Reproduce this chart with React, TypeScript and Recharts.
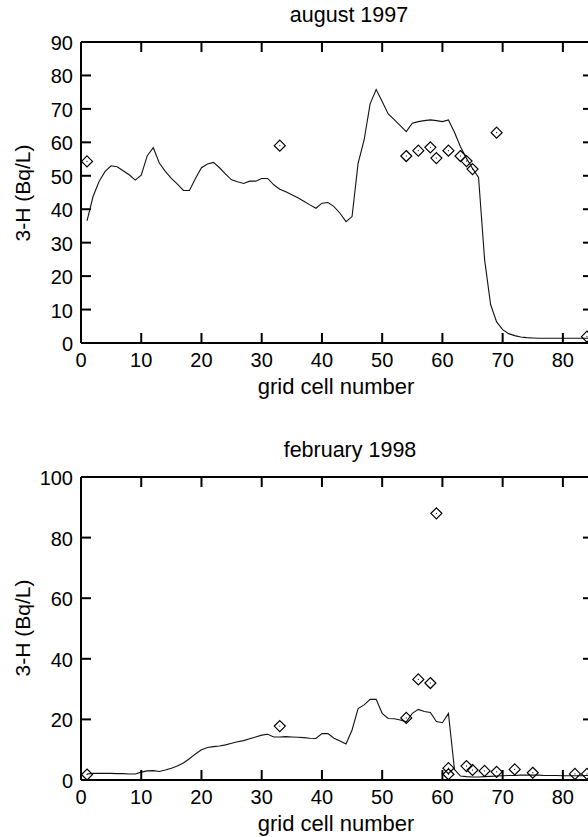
import React from 'react';
import { ComposedChart, Line, Scatter, XAxis, YAxis } from 'recharts';

const FONT = '"Liberation Sans", Arial, Helvetica, sans-serif';

// grid cells 1..85
const gridCells = Array.from({ length: 85 }, (_, i) => i + 1);

const aug97Model = [
  36.5, 43.8, 48.3, 51.3, 53.0, 52.7, 51.5, 50.3, 48.7, 50.2,
  56.0, 58.4, 53.8, 51.3, 49.2, 47.5, 45.6, 45.6, 49.2, 52.4,
  53.5, 54.0, 52.4, 50.5, 48.8, 48.2, 47.7, 48.4, 48.4, 49.2,
  49.2, 47.3, 46.0, 45.2, 44.3, 43.4, 42.4, 41.3, 40.3, 41.8,
  42.0, 40.8, 38.8, 36.3, 37.8, 53.7, 60.7, 71.5, 75.8, 72.2,
  68.5, 66.8, 65.0, 63.2, 65.7, 66.2, 66.5, 66.7, 66.5, 66.2,
  66.7, 63.0, 58.7, 55.2, 52.2, 49.5, 25.0, 11.5, 6.3, 4.0,
  2.8, 2.2, 1.8, 1.6, 1.5, 1.4, 1.4, 1.4, 1.4, 1.4,
  1.4, 1.4, 1.4, 1.4, 1.4,
];

const aug97ObsX = [1, 33, 54, 56, 58, 59, 61, 63, 64, 65, 69, 84];
const aug97ObsY = [54.3, 59.0, 55.9, 57.5, 58.5, 55.3, 57.5, 55.9, 54.4, 52.0, 62.9, 1.9];

const feb98Model = [
  2.0, 2.2, 2.2, 2.2, 2.2, 2.1, 2.1, 2.0, 2.0, 2.6,
  3.0, 3.1, 2.8, 3.3, 3.9, 4.6, 5.6, 7.0, 8.6, 10.0,
  10.7, 11.0, 11.2, 11.6, 12.1, 12.6, 13.0, 13.6, 14.2, 14.8,
  15.1, 14.2, 14.2, 14.3, 14.2, 14.1, 14.0, 13.8, 13.7, 15.3,
  15.3, 13.8, 12.9, 11.9, 16.5, 23.6, 24.8, 26.6, 26.6, 22.0,
  20.3, 20.2, 19.8, 19.2, 22.0, 23.3, 22.6, 22.3, 19.3, 18.9,
  22.0, 3.5, 1.3, 1.1, 1.0, 1.0, 1.1, 1.2, 1.3, 1.4,
  1.5, 1.5, 1.6, 1.6, 1.6, 1.6, 1.5, 1.5, 1.5, 1.4,
  1.4, 1.4, 1.4, 1.5, 1.5,
];

const feb98ObsX = [1, 33, 54, 56, 58, 59, 61, 61, 64, 65, 67, 69, 72, 75, 82, 84];
const feb98ObsY = [1.8, 17.8, 20.5, 33.2, 32.0, 88.0, 3.9, 1.9, 4.6, 3.3, 3.0, 2.7, 3.5, 2.4, 2.0, 2.0];

const xTicks = [0, 10, 20, 30, 40, 50, 60, 70, 80];
const augYTicks = [0, 10, 20, 30, 40, 50, 60, 70, 80, 90];
const febYTicks = [0, 20, 40, 60, 80, 100];

const titles = ['august 1997', 'february 1998'];
const xLabel = 'grid cell number';
const yLabel = '3-H (Bq/L)';

const X_MAX = 85;

const toLine = (vals: number[]) => gridCells.map((x, i) => ({ x, y: vals[i] }));
const toPts = (xs: number[], ys: number[]) => xs.map((x, i) => ({ x, y: ys[i] }));

const TICK_LEN = 10;
const axisLine = { stroke: '#000', strokeWidth: 2 };

const BottomTick = (p: any) => (
  <text x={p.x} y={p.y + 24} textAnchor="middle" fontSize={20} fontFamily={FONT} fill="#000">
    {p.payload.value}
  </text>
);
const LeftTick = (p: any) => (
  <text x={p.x - 8} y={p.y + 8} textAnchor="end" fontSize={20} fontFamily={FONT} fill="#000">
    {p.payload.value}
  </text>
);
const NoLabel = () => <g />;

// inward tick marks, placed by the chart's scales at the tick values
const makeTickMark = (ddx: number, ddy: number) => (p: any) => (
  <line
    x1={p.cx}
    y1={p.cy}
    x2={p.cx + ddx * TICK_LEN}
    y2={p.cy + ddy * TICK_LEN}
    stroke="#000"
    strokeWidth={2}
  />
);
const UpMark = makeTickMark(0, -1);
const DownMark = makeTickMark(0, 1);
const RightMark = makeTickMark(1, 0);
const LeftMark = makeTickMark(-1, 0);

const Diamond = (p: any) => {
  const { cx, cy } = p;
  const r = 5.5;
  return (
    <g>
      <path
        d={`M${cx},${cy - r}L${cx + r},${cy}L${cx},${cy + r}L${cx - r},${cy}Z`}
        fill="none"
        stroke="#000"
        strokeWidth={1.2}
      />
      <rect x={cx - 0.5} y={cy - 0.5} width={1} height={1} fill="#000" />
    </g>
  );
};

type PanelProps = {
  line: { x: number; y: number }[];
  pts: { x: number; y: number }[];
  yMax: number;
  yTicks: number[];
  top: number;
  height: number;
  marginTop: number;
  plotH: number;
};

const Panel = (props: PanelProps) => {
  const bottomMarks = xTicks.map((t) => ({ x: t, y: 0 }));
  const topMarks = xTicks.map((t) => ({ x: t, y: props.yMax }));
  const leftMarks = props.yTicks.map((v) => ({ x: 0, y: v }));
  const rightMarks = props.yTicks.map((v) => ({ x: X_MAX, y: v }));
  return (
    <div style={{ position: 'absolute', left: 0, top: props.top }}>
      <ComposedChart
        width={600}
        height={props.height}
        margin={{ top: props.marginTop, right: 6, bottom: 0, left: 0 }}
      >
        <XAxis
          xAxisId="b"
          dataKey="x"
          type="number"
          domain={[0, X_MAX]}
          ticks={xTicks}
          orientation="bottom"
          height={props.height - props.marginTop - 1 - props.plotH}
          tickSize={0}
          tickMargin={0}
          tickLine={false}
          axisLine={axisLine}
          tick={BottomTick}
          interval={0}
        />
        <XAxis
          xAxisId="t"
          dataKey="x"
          type="number"
          domain={[0, X_MAX]}
          ticks={xTicks}
          orientation="top"
          height={1}
          tickSize={0}
          tickMargin={0}
          tickLine={false}
          axisLine={axisLine}
          tick={NoLabel}
          interval={0}
        />
        <YAxis
          yAxisId="l"
          type="number"
          domain={[0, props.yMax]}
          ticks={props.yTicks}
          orientation="left"
          width={81}
          tickSize={0}
          tickMargin={0}
          tickLine={false}
          axisLine={axisLine}
          tick={LeftTick}
          interval={0}
        />
        <YAxis
          yAxisId="r"
          type="number"
          domain={[0, props.yMax]}
          ticks={props.yTicks}
          orientation="right"
          width={1}
          tickSize={0}
          tickMargin={0}
          tickLine={false}
          axisLine={axisLine}
          tick={NoLabel}
          interval={0}
        />
        <Scatter xAxisId="b" yAxisId="l" data={bottomMarks} dataKey="y" shape={UpMark} isAnimationActive={false} />
        <Scatter xAxisId="b" yAxisId="l" data={topMarks} dataKey="y" shape={DownMark} isAnimationActive={false} />
        <Scatter xAxisId="b" yAxisId="l" data={leftMarks} dataKey="y" shape={RightMark} isAnimationActive={false} />
        <Scatter xAxisId="b" yAxisId="l" data={rightMarks} dataKey="y" shape={LeftMark} isAnimationActive={false} />
        <Line
          xAxisId="b"
          yAxisId="l"
          data={props.line}
          dataKey="y"
          type="linear"
          stroke="#111"
          strokeWidth={1.1}
          dot={false}
          activeDot={false}
          isAnimationActive={false}
        />
        <Scatter
          xAxisId="b"
          yAxisId="l"
          data={props.pts}
          dataKey="y"
          shape={Diamond}
          isAnimationActive={false}
        />
        {/* binds the mirrored top/right frame axes; draws nothing */}
        <Scatter
          xAxisId="t"
          yAxisId="r"
          data={props.pts}
          dataKey="y"
          shape={NoLabel}
          isAnimationActive={false}
        />
      </ComposedChart>
    </div>
  );
};

const Labels = () => (
  <svg width={588} height={837} style={{ position: 'absolute', left: 0, top: 0, pointerEvents: 'none' }}>
    <text x={349} y={22} textAnchor="middle" fontSize={21.5} fontFamily={FONT} fill="#000">{titles[0]}</text>
    <text x={350} y={457} textAnchor="middle" fontSize={21.5} fontFamily={FONT} fill="#000">{titles[1]}</text>
    <text x={22} y={193} transform="rotate(-90, 22, 193)" textAnchor="middle" dominantBaseline="central"
      fontSize={21} fontFamily={FONT} fill="#000">{yLabel}</text>
    <text x={22} y={628} transform="rotate(-90, 22, 628)" textAnchor="middle" dominantBaseline="central"
      fontSize={21} fontFamily={FONT} fill="#000">{yLabel}</text>
    <text x={336} y={394} textAnchor="middle" fontSize={22} fontFamily={FONT} fill="#000">{xLabel}</text>
    <text x={336} y={831} textAnchor="middle" fontSize={22} fontFamily={FONT} fill="#000">{xLabel}</text>
  </svg>
);

export default function App() {
  return (
    <div style={{ position: 'fixed', left: 0, top: 0, width: 588, height: 837, overflow: 'hidden', background: '#fff' }}>
      <Panel
        line={toLine(aug97Model)}
        pts={toPts(aug97ObsX, aug97ObsY)}
        yMax={90}
        yTicks={augYTicks}
        top={0}
        height={400}
        marginTop={41}
        plotH={301}
      />
      <Panel
        line={toLine(feb98Model)}
        pts={toPts(feb98ObsX, feb98ObsY)}
        yMax={100}
        yTicks={febYTicks}
        top={400}
        height={437}
        marginTop={76}
        plotH={303}
      />
      <Labels />
    </div>
  );
}
